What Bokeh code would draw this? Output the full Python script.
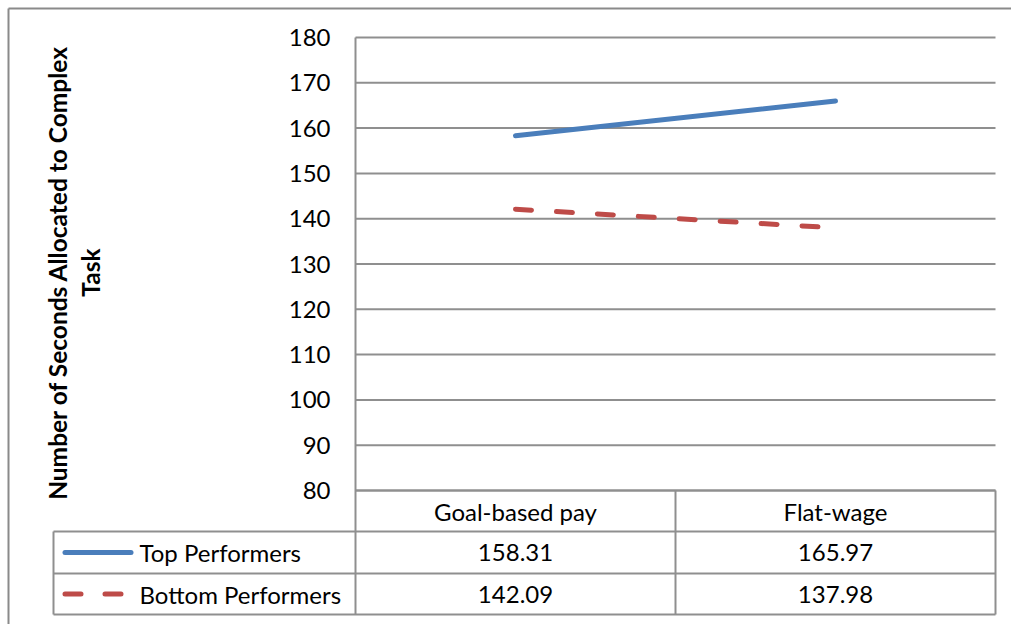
from bokeh.plotting import figure
from bokeh.models import Range1d
from bokeh.core.properties import value
from bokeh.embed import file_html
from bokeh.resources import INLINE

# --- data -------------------------------------------------------------
categories = ["Goal-based pay", "Flat-wage"]
series_names = ["Top Performers", "Bottom Performers"]
top_performers = [158.31, 165.97]
bottom_performers = [142.09, 137.98]
y_ticks = [80, 90, 100, 110, 120, 130, 140, 150, 160, 170, 180]
y_title = ["Number of Seconds Allocated to Complex", "Task"]

# --- layout (pixels) --------------------------------------------------
W, H = 1011, 624
PLOT_L, PLOT_R, PLOT_T, PLOT_B = 355, 995, 37, 490
TABLE_L = 53
ROW_EDGES = [490, 531, 573, 614]
Y_MIN, Y_MAX = y_ticks[0], y_ticks[-1]

FONT = value("Lato")
FS = "24px"
GRID = "#8f8f8f"
BLUE = "#4a7ebb"
RED = "#be4b48"
DASH = "16 25"

p = figure(width=W, height=H, x_range=Range1d(0, W), y_range=Range1d(H, 0),
           x_axis_type=None, y_axis_type=None, toolbar_location=None,
           output_backend="svg", min_border=0, outline_line_color=None,
           background_fill_color="white", border_fill_color="white")
p.xgrid.visible = False
p.ygrid.visible = False

# data ranges: categories centred in equal columns across the plot area,
# values from Y_MIN to Y_MAX between plot bottom and top
n = len(categories)
col_w = (PLOT_R - PLOT_L) / n
p.extra_x_ranges = {"cat": Range1d(-0.5 - PLOT_L / col_w,
                                   n - 0.5 + (W - PLOT_R) / col_w)}
px_per = (PLOT_B - PLOT_T) / (Y_MAX - Y_MIN)
p.extra_y_ranges = {"val": Range1d(Y_MIN - (H - PLOT_B) / px_per,
                                   Y_MAX + PLOT_T / px_per)}

# outer chart border (runs off the right and bottom edge)
p.segment(x0=[8, 8], y0=[8, 8], x1=[W + 5, 8], y1=[8, H + 5],
          line_color="#8a8a8a", line_width=2)

# horizontal gridlines
p.segment(x0=[PLOT_L] * len(y_ticks), x1=[PLOT_R] * len(y_ticks),
          y0=y_ticks, y1=y_ticks, y_range_name="val",
          line_color=GRID, line_width=2)

# y tick labels
p.text(x=[PLOT_L - 25] * len(y_ticks), y=y_ticks, y_range_name="val",
       text=[str(t) for t in y_ticks], text_font=FONT, text_font_size=FS,
       text_align="right", text_baseline="middle", text_color="black")

# y axis title (two rotated lines)
p.text(x=[57, 90], y=[272, 272], text=y_title, angle=1.5707963,
       text_font=FONT, text_font_size="24.5px", text_font_style="bold",
       text_align="center", text_baseline="middle", text_color="black")

# data table grid
p.segment(x0=[PLOT_L, TABLE_L, TABLE_L, TABLE_L],
          x1=[PLOT_R] * 4,
          y0=ROW_EDGES, y1=ROW_EDGES, line_color=GRID, line_width=2)
p.segment(x0=[PLOT_L, TABLE_L, PLOT_L + col_w, PLOT_R],
          x1=[PLOT_L, TABLE_L, PLOT_L + col_w, PLOT_R],
          y0=[PLOT_T, ROW_EDGES[1], ROW_EDGES[0], ROW_EDGES[0]],
          y1=[ROW_EDGES[-1]] * 4, line_color=GRID, line_width=2)

row_mid = [(ROW_EDGES[i] + ROW_EDGES[i + 1]) / 2 for i in range(3)]
idx = list(range(n))

# header row: category names
p.text(x=idx, y=[row_mid[0]] * n, x_range_name="cat", text=categories,
       text_font=FONT, text_font_size=FS, text_align="center",
       text_baseline="middle", text_color="black")

# value rows
for r, vals in enumerate([top_performers, bottom_performers]):
    p.text(x=idx, y=[row_mid[r + 1]] * n, x_range_name="cat",
           text=[f"{v:.2f}" for v in vals], text_font=FONT,
           text_font_size=FS, text_align="center", text_baseline="middle",
           text_color="black")

# legend keys and names in the table
p.line(x=[64.5, 130.5], y=[row_mid[1]] * 2, line_color=BLUE, line_width=5,
       line_cap="round")
p.line(x=[64.5, 121], y=[row_mid[2]] * 2, line_color=RED, line_width=5,
       line_cap="round", line_dash="16 24")
p.text(x=[139, 139], y=row_mid[1:], text=series_names, text_font=FONT,
       text_font_size=FS, text_align="left", text_baseline="middle",
       text_color="black")

# series lines
p.line(x=idx, y=top_performers, x_range_name="cat", y_range_name="val",
       line_color=BLUE, line_width=5, line_cap="round")
p.line(x=idx, y=bottom_performers, x_range_name="cat", y_range_name="val",
       line_color=RED, line_width=5, line_cap="round", line_dash=DASH)

open("out.html", "w").write(file_html(p, INLINE))
